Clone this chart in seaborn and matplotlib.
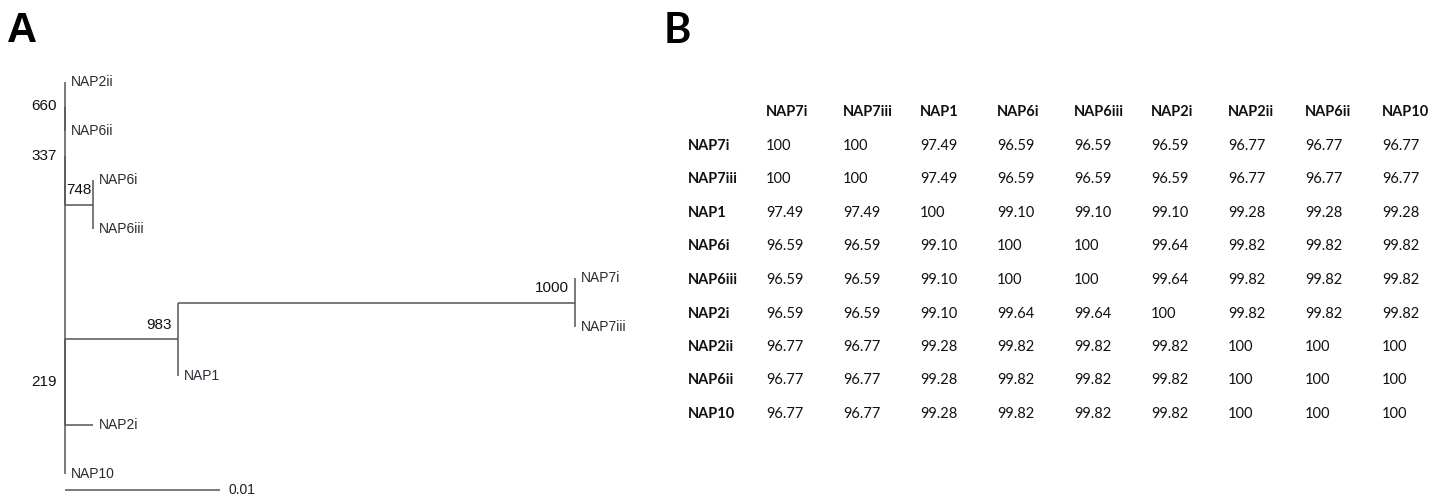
import numpy as np
import pandas as pd
import matplotlib
matplotlib.use("Agg")
import matplotlib.pyplot as plt
from matplotlib.colors import ListedColormap
from matplotlib.transforms import offset_copy, blended_transform_factory
import seaborn as sns

# ---------------- Panel A: tree (branch lengths in substitutions/site) ----------------
leaf_names = ["NAP2ii", "NAP6ii", "NAP6i", "NAP6iii", "NAP7i", "NAP7iii", "NAP1", "NAP2i", "NAP10"]
leaf_parent = ["n660", "n660", "n748", "n748", "n1000", "n1000", "n983", "n219", "root"]
leaf_branch = [0.0, 0.0, 0.0, 0.0, 0.0, 0.0, 0.0, 0.0018, 0.0]

node_ids = ["root", "n337", "n660", "n748", "n219", "n983", "n1000"]
node_parent = [None, "root", "n337", "n337", "root", "n219", "n983"]
node_branch = [0.0, 0.0, 0.0, 0.0018, 0.0, 0.0073, 0.0256]
node_support = ["", "337", "660", "748", "219", "983", "1000"]

scale_bar_length = 0.01
scale_bar_label = "0.01"

# ---------------- Panel B: pairwise identity (%) ----------------
isolates = ["NAP7i", "NAP7iii", "NAP1", "NAP6i", "NAP6iii", "NAP2i", "NAP2ii", "NAP6ii", "NAP10"]
identity = [
    [100, 100, 97.49, 96.59, 96.59, 96.59, 96.77, 96.77, 96.77],
    [100, 100, 97.49, 96.59, 96.59, 96.59, 96.77, 96.77, 96.77],
    [97.49, 97.49, 100, 99.10, 99.10, 99.10, 99.28, 99.28, 99.28],
    [96.59, 96.59, 99.10, 100, 100, 99.64, 99.82, 99.82, 99.82],
    [96.59, 96.59, 99.10, 100, 100, 99.64, 99.82, 99.82, 99.82],
    [96.59, 96.59, 99.10, 99.64, 99.64, 100, 99.82, 99.82, 99.82],
    [96.77, 96.77, 99.28, 99.82, 99.82, 99.82, 100, 100, 100],
    [96.77, 96.77, 99.28, 99.82, 99.82, 99.82, 100, 100, 100],
    [96.77, 96.77, 99.28, 99.82, 99.82, 99.82, 100, 100, 100],
]

sns.set_theme(style="white")
plt.rcParams["font.family"] = ["Liberation Sans", "DejaVu Sans"]

W, H, DPI = 1445, 496, 100
fig = plt.figure(figsize=(W / DPI, H / DPI), dpi=DPI, facecolor="white")


def px_box(left, top, right, bottom):
    return [left / W, 1 - bottom / H, (right - left) / W, (bottom - top) / H]


# ---------- tree layout ----------
x_pos, y_pos = {}, {}
children = {n: [] for n in node_ids}
branch = {}
parent = {}
for n, p, b in zip(node_ids, node_parent, node_branch):
    branch[n], parent[n] = b, p
    if p is not None:
        children[p].append(n)
for i, (n, p, b) in enumerate(zip(leaf_names, leaf_parent, leaf_branch)):
    branch[n], parent[n] = b, p
    children[p].append(n)
    y_pos[n] = float(i)


def place_x(n, x0):
    x_pos[n] = x0 + branch[n]
    for c in children.get(n, []):
        place_x(c, x_pos[n])


def place_y(n):
    if n in y_pos:
        return y_pos[n]
    ys = [place_y(c) for c in children[n]]
    y_pos[n] = (min(ys) + max(ys)) / 2
    return y_pos[n]


place_x("root", 0.0)
place_y("root")

segs = []
k = 0
for n in node_ids:
    ys = [y_pos[c] for c in children[n]]
    segs += [(x_pos[n], min(ys), k), (x_pos[n], max(ys), k)]
    k += 1
for n in list(node_ids) + leaf_names:
    if parent[n] is not None and branch[n] > 0:
        segs += [(x_pos[parent[n]], y_pos[n], k), (x_pos[n], y_pos[n], k)]
        k += 1
n_leaves = len(leaf_names)
bar_y = n_leaves - 1 + 16 / 49
segs += [(0.0, bar_y, k), (scale_bar_length, bar_y, k)]
seg_df = pd.DataFrame(segs, columns=["x", "y", "seg"])

tree_left, tree_right = 65, 575
ax_t = fig.add_axes(px_box(tree_left, 82, tree_right, 490))
x_max = max(x_pos.values())
ax_t.set_xlim(0, x_max)
ax_t.set_ylim(bar_y, 0)
sns.lineplot(data=seg_df, x="x", y="y", units="seg", estimator=None, sort=False,
             color="#555555", linewidth=1.1, ax=ax_t, legend=False)
for ln in ax_t.lines:
    ln.set_clip_on(False)
    ln.set_solid_capstyle("butt")
ax_t.set_axis_off()

px_per_unit = (tree_right - tree_left) / x_max
leaf_tr = offset_copy(ax_t.transData, fig=fig, x=6, y=0, units="dots")
for n in leaf_names:
    ax_t.text(x_pos[n], y_pos[n], n, transform=leaf_tr, ha="left", va="center",
              fontsize=10, color="#2a2a33")

for n, s in zip(node_ids, node_support):
    if not s:
        continue
    if branch[n] == 0:
        tr = offset_copy(ax_t.transData, fig=fig, x=-8, y=0, units="dots")
        ax_t.text(x_pos[n], y_pos[n], s, transform=tr, ha="right", va="center",
                  fontsize=11, color="#111111")
    elif branch[n] * px_per_unit >= 40:
        tr = offset_copy(ax_t.transData, fig=fig, x=-6, y=14, units="dots")
        ax_t.text(x_pos[n], y_pos[n], s, transform=tr, ha="right", va="center",
                  fontsize=11, color="#111111")
    else:
        tr = offset_copy(ax_t.transData, fig=fig, x=1, y=14, units="dots")
        ax_t.text(x_pos[parent[n]], y_pos[n], s, transform=tr, ha="left", va="center",
                  fontsize=11, color="#111111")

bar_tr = offset_copy(ax_t.transData, fig=fig, x=8, y=0, units="dots")
ax_t.text(scale_bar_length, bar_y, scale_bar_label, transform=bar_tr, ha="left",
          va="center", fontsize=10, color="#222222")

# ---------- identity table ----------
mat = pd.DataFrame(identity, index=isolates, columns=isolates)
labels = mat.map(lambda v: "100" if v == 100 else f"{v:.2f}")

table_font = ["Lato", "DejaVu Sans"]
table_size = 10.5
col_w, row_h = 77, 33.5
tab_left = 766 - col_w / 2
tab_top = 146 - row_h / 2
ax_b = fig.add_axes(px_box(tab_left, tab_top, tab_left + col_w * len(isolates),
                           tab_top + row_h * len(isolates)))
sns.heatmap(mat, annot=labels, fmt="", cmap=ListedColormap(["white"]), cbar=False,
            linewidths=0, xticklabels=False, yticklabels=False, ax=ax_b,
            annot_kws={"ha": "left", "va": "center", "fontsize": table_size,
                       "color": "#111111", "family": table_font})
# column headers one row above the body
for j, name in enumerate(isolates):
    ax_b.text(j + 0.5, -0.5, name, ha="left", va="center", fontsize=table_size,
              fontweight="bold", color="#111111", family=table_font, clip_on=False)
# row headers to the left of the body
row_tr = offset_copy(blended_transform_factory(ax_b.transAxes, ax_b.transData),
                     fig=fig, x=-(tab_left - 688), y=0, units="dots")
for i, name in enumerate(isolates):
    ax_b.text(0, i + 0.5, name, transform=row_tr, ha="left", va="center",
              fontsize=table_size, fontweight="bold", color="#111111",
              family=table_font, clip_on=False)
ax_b.set_ylabel("")
ax_b.set_xlabel("")
ax_b.tick_params(length=0)
for sp in ax_b.spines.values():
    sp.set_visible(False)

# ---------- panel letters ----------
fig.text(7 / W, 1 - 31 / H, "A", fontsize=30, fontweight="bold", ha="left", va="center",
         color="black", family=["Liberation Sans", "DejaVu Sans"])
fig.text(664 / W, 1 - 31 / H, "B", fontsize=30, fontweight="bold", ha="left", va="center",
         color="black", family=["Lato", "DejaVu Sans"])

fig.savefig("out.png", dpi=DPI, facecolor="white")
